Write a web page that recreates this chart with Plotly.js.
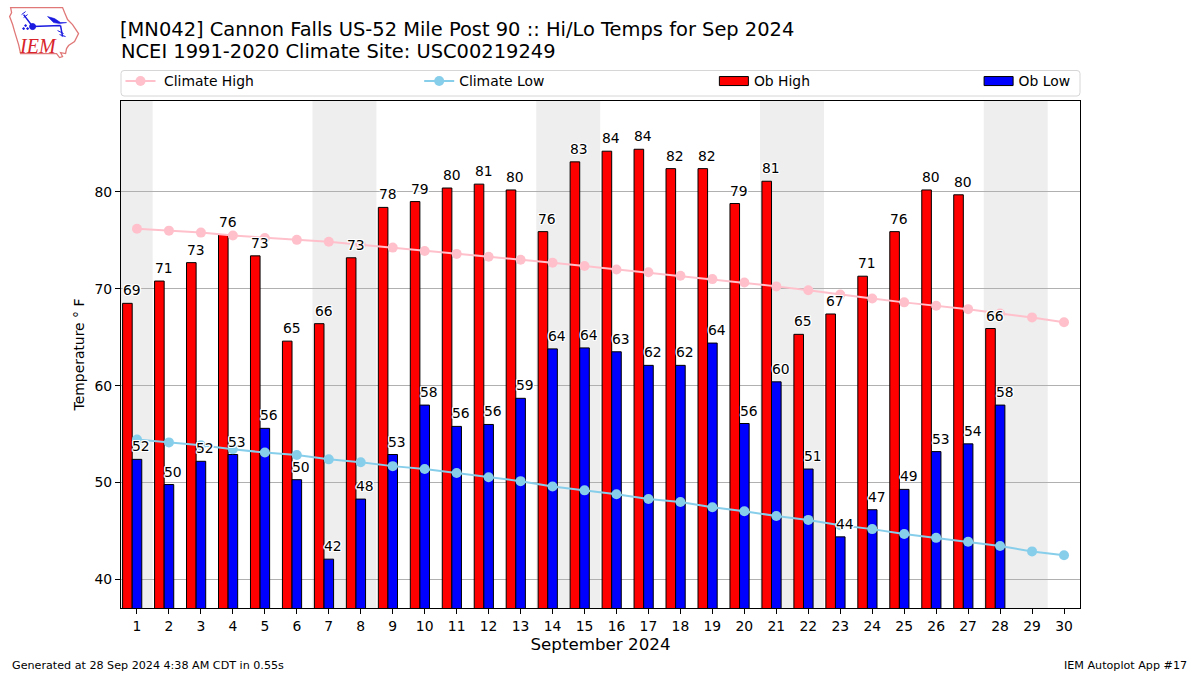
<!DOCTYPE html>
<html>
<head>
<meta charset="utf-8">
<script src="https://cdn.plot.ly/plotly-3.0.1.min.js"></script>
<style>html,body{margin:0;padding:0;background:#fff}#chart{width:1200px;height:675px}
text.legendtext{transform:translateX(3.5px)}</style>
</head>
<body>
<div id="chart"></div>
<script>
const days = [1,2,3,4,5,6,7,8,9,10,11,12,13,14,15,16,17,18,19,20,21,22,23,24,25,26,27,28,29,30];
const obDays = days.slice(0,28);
const obHigh = [68.5,70.8,72.7,75.6,73.4,64.6,66.4,73.2,78.4,79,80.4,80.8,80.2,75.9,83.1,84.2,84.4,82.4,82.4,78.8,81.1,65.3,67.4,71.3,75.9,80.2,79.7,65.9];
const obLow = [52.4,49.8,52.2,52.9,55.6,50.3,42.1,48.3,52.9,58,55.8,56,58.7,63.8,63.9,63.5,62.1,62.1,64.4,56.1,60.4,51.4,44.4,47.2,49.3,53.2,54,58];
const highLabels = [69,71,73,76,73,65,66,73,78,79,80,81,80,76,83,84,84,82,82,79,81,65,67,71,76,80,80,66];
const lowLabels = [52,50,52,53,56,50,42,48,53,58,56,56,59,64,64,63,62,62,64,56,60,51,44,47,49,53,54,58];
const climateHigh = [76.2,76.0,75.8,75.5,75.25,75.05,74.85,74.55,74.25,73.9,73.6,73.3,73.0,72.7,72.35,72.0,71.7,71.35,71.0,70.65,70.25,69.85,69.4,69.0,68.6,68.25,67.9,67.45,67.05,66.55];
const climateLow = [54.45,54.15,53.85,53.45,53.1,52.85,52.4,52.1,51.7,51.4,51.0,50.55,50.15,49.6,49.2,48.8,48.3,48.0,47.45,47.05,46.55,46.15,45.6,45.2,44.7,44.3,43.9,43.45,42.9,42.5];
const weekendSpans = [[0.49,1.49],[6.49,8.49],[13.49,15.49],[20.49,22.49],[27.49,29.49]];
const yTicks = [40,50,60,70,80];

const W = 1200, H = 675;
const M = {l:120.5, r:119.5, t:100.5, b:67};
const FONT = 'DejaVu Sans';
const HALO = '1.2px 0 0 #fff,-1.2px 0 0 #fff,0 1.2px 0 #fff,0 -1.2px 0 #fff,1px 1px 0 #fff,-1px -1px 0 #fff,1px -1px 0 #fff,-1px 1px 0 #fff';
const px = x => (x - M.l) / (W - M.l - M.r);
const py = y => 1 - (y - M.t) / (H - M.t - M.b);

const traces = [
  {type:'bar', name:'Ob High', x:obDays, y:obHigh, width:0.3, offset:-0.45, legend:'legend3',
   marker:{color:'#ff0000', line:{color:'#000', width:1}}},
  {type:'bar', name:'Ob Low', x:obDays, y:obLow, width:0.3, offset:-0.15, legend:'legend4',
   marker:{color:'#0000ff', line:{color:'#000', width:1}}},
  {type:'scatter', mode:'lines+markers', name:'Climate High', x:days, y:climateHigh, legend:'legend',
   line:{color:'#ffc0cb', width:2}, marker:{color:'#ffc0cb', size:10}},
  {type:'scatter', mode:'lines+markers', name:'Climate Low', x:days, y:climateLow, legend:'legend2',
   line:{color:'#87ceeb', width:2}, marker:{color:'#87ceeb', size:10}}
];

const valueLabels = (values, labels, xs) => values.map((v,i) => ({
  x:xs[i], y:v, xref:'x', yref:'y', text:String(labels[i]), showarrow:false,
  xanchor:'center', yanchor:'bottom', xshift:4.5, yshift:3,
  font:{family:FONT, size:13.9, color:'#000', shadow:HALO}
}));

const annotations = [
  ...valueLabels(obHigh, highLabels, obDays.map(d => d - 0.3)),
  ...valueLabels(obLow, lowLabels, obDays),
  {xref:'paper', yref:'paper', x:px(118), y:py(50.5), text:'NCEI 1991-2020 Climate Site: USC00219249', showarrow:false,
   xanchor:'left', yanchor:'middle', font:{family:FONT, size:19.45, color:'#000'}},
  {xref:'paper', yref:'paper', x:px(9.5), y:py(666), text:'Generated at 28 Sep 2024 4:38 AM CDT in 0.55s', showarrow:false,
   xanchor:'left', yanchor:'middle', font:{family:FONT, size:11.15, color:'#000'}},
  {xref:'paper', yref:'paper', x:px(1190), y:py(666), text:'IEM Autoplot App #17', showarrow:false,
   xanchor:'right', yanchor:'middle', font:{family:FONT, size:11.15, color:'#000'}},
  {xref:'paper', yref:'paper', x:px(37), y:py(45), text:'<i>IEM</i>', showarrow:false,
   xanchor:'center', yanchor:'middle', font:{family:'Liberation Serif', size:20, color:'#d8232a'}}
];

const shapes = [
  ...weekendSpans.map(s => ({type:'rect', layer:'below', xref:'x', yref:'paper', x0:s[0], x1:s[1], y0:0, y1:1,
    fillcolor:'#eeeeee', line:{width:0}})),
  {type:'path', layer:'below', xref:'paper', yref:'paper',
   path:`M ${px(123.5)} ${py(70)} L ${px(1077.5)} ${py(70)} Q ${px(1080.5)} ${py(70)} ${px(1080.5)} ${py(73)} L ${px(1080.5)} ${py(92)} Q ${px(1080.5)} ${py(95.5)} ${px(1077.5)} ${py(95.5)} L ${px(123.5)} ${py(95.5)} Q ${px(120.5)} ${py(95.5)} ${px(120.5)} ${py(92)} L ${px(120.5)} ${py(73)} Q ${px(120.5)} ${py(70)} ${px(123.5)} ${py(70)} Z`,
   fillcolor:'#fff', line:{color:'#d6d6d6', width:1}}
];

const logoSvg = `<svg xmlns="http://www.w3.org/2000/svg" width="80" height="60" viewBox="5 3 80 60">
<path d="M10,7 L62,7 L64,12 L67,19 L72,24 L78,33 L74,41 L68,45 L66,48 L65,53 L60,52 L62,56 L59,57 L56,53 L20,53 L18,44 L14,31 L12,24 L9,16 L11,12 Z" fill="#fff" stroke="#e07878" stroke-width="1.3"/>
<g fill="#1a1ae0" stroke="#1a1ae0">
<path d="M32,26 L60,25 M60,25 L62,36 M32,26 L23,14" fill="none" stroke-width="1.5"/>
<circle cx="32" cy="26" r="3"/>
<path d="M47,16 L54,18 L60,22 L66,22 L59,23 L53,22 Z" stroke-width="0.6"/>
<path d="M21,14 L25,11 M23,17 L27,14 M57,30 L63,33 M59,34 L65,36" fill="none" stroke-width="1"/>
<circle cx="25" cy="25" r="0.9"/><circle cx="23" cy="28" r="0.9"/><circle cx="27" cy="28" r="0.9"/>
</g></svg>`;

const legendAt = x => ({
  x:px(x), y:py(81), xref:'paper', yref:'paper', xanchor:'left', yanchor:'middle',
  bgcolor:'rgba(0,0,0,0)', borderwidth:0, font:{family:FONT, size:13.9, color:'#000'},
  itemclick:false, itemdoubleclick:false
});

const layout = {
  width:W, height:H, autosize:false, margin:M, paper_bgcolor:'#fff', plot_bgcolor:'#fff',
  font:{family:FONT, size:13.9, color:'#000'},
  barmode:'overlay', showlegend:true,
  title:{text:'[MN042] Cannon Falls US-52 Mile Post 90 :: Hi/Lo Temps for Sep 2024', xref:'container', yref:'container',
    x:120/W, y:1-29/H, xanchor:'left', yanchor:'middle', font:{family:FONT, size:19.45, color:'#000'}},
  xaxis:{range:[0.5,30.5], tickmode:'array', tickvals:days, ticktext:days.map(String), showgrid:false, zeroline:false,
    showline:true, mirror:true, linecolor:'#000', linewidth:1, ticks:'outside', ticklen:5, tickwidth:1, tickcolor:'#000',
    tickfont:{family:FONT, size:13.9}, tickangle:0,
    title:{text:'September 2024', font:{family:FONT, size:16.7}, standoff:5}},
  yaxis:{range:[37.06,89.38], tickmode:'array', tickvals:yTicks, ticktext:yTicks.map(String), showgrid:true, gridcolor:'#b0b0b0', gridwidth:1,
    zeroline:false, showline:true, mirror:true, linecolor:'#000', linewidth:1, ticks:'outside', ticklen:5, tickwidth:1, tickcolor:'#000',
    tickfont:{family:FONT, size:13.9},
    title:{text:'Temperature ° F', font:{family:FONT, size:13.9}, standoff:6}},
  legend:legendAt(120), legend2:legendAt(419), legend3:legendAt(714), legend4:legendAt(979),
  annotations, shapes,
  images:[{source:'data:image/svg+xml;utf8,'+encodeURIComponent(logoSvg), xref:'paper', yref:'paper', x:px(5), y:py(3),
    sizex:80/(W-M.l-M.r), sizey:60/(H-M.t-M.b), xanchor:'left', yanchor:'top', layer:'above', sizing:'stretch'}],
  hovermode:'closest'
};

// wide, flat legend patches for the bar entries
function tweakLegends() {
  document.querySelectorAll('.legendpoints path, path.legendbar').forEach(p => {
    const d = p.getAttribute('d') || '';
    if (d.startsWith('M6,6')) p.setAttribute('d','M14.5,4.5H-14.5V-4.5H14.5Z');
  });
}

Plotly.newPlot('chart', traces, layout, {displayModeBar:false, responsive:false}).then(gd => {
  gd.on('plotly_afterplot', tweakLegends);
  tweakLegends();
  requestAnimationFrame(tweakLegends);
  setTimeout(tweakLegends, 50);
  setTimeout(tweakLegends, 300);
});
</script>
</body>
</html>
